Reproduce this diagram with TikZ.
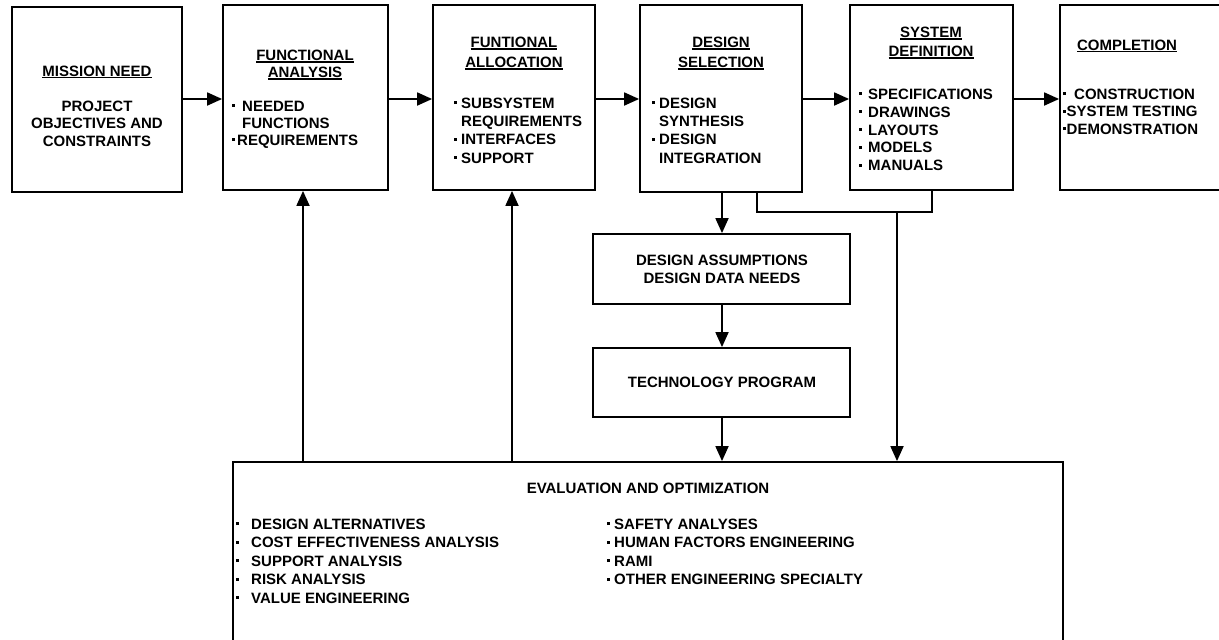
\documentclass[tikz,border=0pt]{standalone}
\usepackage{fontspec}
\setmainfont{Liberation Sans}
\usetikzlibrary{arrows.meta}

% underlined heading with a heavier rule
\newcommand\ulh[1]{\leavevmode\setbox0=\hbox{#1}\rlap{\rule[-2.4pt]{\wd0}{1.2pt}}\box0}
% bullet dot in a box of given width
\newcommand\bi[1]{\makebox[#1][l]{\hspace{1pt}\raisebox{4.2pt}{\rule{2.6pt}{2.6pt}}}}

\tikzset{
  box/.style={draw, line width=1.8pt, rectangle, inner sep=0pt},
  conn/.style={line width=1.8pt},
  arr/.style={conn, -{Triangle[length=15pt,width=13pt]}},
  lbl/.style={inner sep=0pt, font=\fontsize{15}{18}\selectfont\bfseries},
}

% \blk{name}{x1}{y1}{x2}{y2}
\newcommand\blk[5]{%
  \node[box, minimum width={#4pt-#2pt}, minimum height={#5pt-#3pt}]
    (#1) at ({(#2+#4)/2},{(#3+#5)/2}) {};}

\begin{document}
\begin{tikzpicture}[x=1pt,y=-1pt]
\useasboundingbox (0,0) rectangle (1219,640);

% process stages
\blk{b1}{12}{7}{182}{192}
\blk{b2}{223}{5}{388}{190}
\blk{b3}{433}{5}{595}{190}
\blk{b4}{640}{5}{802}{192}
\blk{b5}{850}{5}{1013}{190}
\blk{b6}{1060}{5}{1226}{190}
\blk{da}{593}{234}{850}{304}
\blk{tp}{593}{348}{850}{417}
\blk{ev}{233}{462}{1063}{652}

% stage texts
\node[lbl] (t1) at (97,72) {\ulh{MISSION NEED}};
\node[lbl, align=center, anchor=north, font=\fontsize{15}{17.5}\selectfont\bfseries]
  (p1) at (97,100.6) {PROJECT\\OBJECTIVES AND\\CONSTRAINTS};

\node[lbl, align=center, anchor=north, font=\fontsize{15}{17}\selectfont\bfseries]
  (t2) at (305,49.6) {\ulh{FUNCTIONAL}\\\ulh{ANALYSIS}};
\node[lbl, align=left, anchor=north west, font=\fontsize{15}{17}\selectfont\bfseries]
  (p2) at (231,100.6) {\bi{11pt}NEEDED\\\hspace*{11pt}FUNCTIONS\\\bi{6pt}REQUIREMENTS};

\node[lbl, align=center, anchor=north, font=\fontsize{15}{20}\selectfont\bfseries]
  (t3) at (514,36.6) {\ulh{FUNTIONAL}\\\ulh{ALLOCATION}};
\node[lbl, align=left, anchor=north west, font=\fontsize{15}{18.3}\selectfont\bfseries]
  (p3) at (453,97.6) {\bi{8pt}SUBSYSTEM\\\hspace*{8pt}REQUIREMENTS\\\bi{8pt}INTERFACES\\\bi{8pt}SUPPORT};

\node[lbl, align=center, anchor=north, font=\fontsize{15}{20}\selectfont\bfseries]
  (t4) at (721,36.6) {\ulh{DESIGN}\\\ulh{SELECTION}};
\node[lbl, align=left, anchor=north west, font=\fontsize{15}{18.3}\selectfont\bfseries]
  (p4) at (651,97.6) {\bi{8pt}DESIGN\\\hspace*{8pt}SYNTHESIS\\\bi{8pt}DESIGN\\\hspace*{8pt}INTEGRATION};

\node[lbl, align=center, anchor=north, font=\fontsize{15}{19}\selectfont\bfseries]
  (t5) at (931,26.6) {\ulh{SYSTEM}\\\ulh{DEFINITION}};
\node[lbl, align=left, anchor=north west, font=\fontsize{15}{17.9}\selectfont\bfseries]
  (p5) at (858,88.6) {\bi{10pt}SPECIFICATIONS\\\bi{10pt}DRAWINGS\\\bi{10pt}LAYOUTS\\\bi{10pt}MODELS\\\bi{10pt}MANUALS};

\node[lbl] (t6) at (1127,46) {\ulh{COMPLETION}};
\node[lbl, align=left, anchor=north west, font=\fontsize{15}{17.5}\selectfont\bfseries]
  (p6) at (1062,88.6) {\bi{12pt}CONSTRUCTION\\\bi{4.5pt}SYSTEM TESTING\\\bi{4.5pt}DEMONSTRATION};

\node[lbl, align=center] (tda) at (722,269) {DESIGN ASSUMPTIONS\\DESIGN DATA NEEDS};
\node[lbl] (ttp) at (722,382) {TECHNOLOGY PROGRAM};

\node[lbl] (tev) at (648,488) {EVALUATION AND OPTIMIZATION};
\node[lbl, align=left, anchor=north west, font=\fontsize{15}{18.5}\selectfont\bfseries]
  (pl) at (235,518.6) {\bi{16pt}DESIGN ALTERNATIVES\\\bi{16pt}COST EFFECTIVENESS ANALYSIS\\\bi{16pt}SUPPORT ANALYSIS\\\bi{16pt}RISK ANALYSIS\\\bi{16pt}VALUE ENGINEERING};
\node[lbl, align=left, anchor=north west, font=\fontsize{15}{18.5}\selectfont\bfseries]
  (pr) at (606,518.6) {\bi{8pt}SAFETY ANALYSES\\\bi{8pt}HUMAN FACTORS ENGINEERING\\\bi{8pt}RAMI\\\bi{8pt}OTHER ENGINEERING SPECIALTY};

% flow along the top row
\coordinate (row) at (0,99);
\draw[arr] (b1.east |- row) -- (b2.west |- row);
\draw[arr] (b2.east |- row) -- (b3.west |- row);
\draw[arr] (b3.east |- row) -- (b4.west |- row);
\draw[arr] (b4.east |- row) -- (b5.west |- row);
\draw[arr] (b5.east |- row) -- (b6.west |- row);

% design branch
\coordinate (xa) at (722,0);
\draw[arr] (b4.south -| xa) -- (da.north -| xa);
\draw[arr] (da.south -| xa) -- (tp.north -| xa);
\draw[arr] (tp.south -| xa) -- (ev.north -| xa);

% join of design selection and system definition
\coordinate (xf1) at (757,0);
\coordinate (xf2) at (932,0);
\coordinate (yf) at (0,212);
\coordinate (xd) at (897,0);
\draw[conn] (b4.south -| xf1) -- (xf1 |- yf) -- (xf2 |- yf) -- (b5.south -| xf2);
\draw[arr] (xd |- yf) -- (ev.north -| xd);

% feedback from evaluation
\coordinate (xl) at (303,0);
\coordinate (xm) at (512,0);
\draw[arr] (ev.north -| xl) -- (b2.south -| xl);
\draw[arr] (ev.north -| xm) -- (b3.south -| xm);
\end{tikzpicture}
\end{document}
